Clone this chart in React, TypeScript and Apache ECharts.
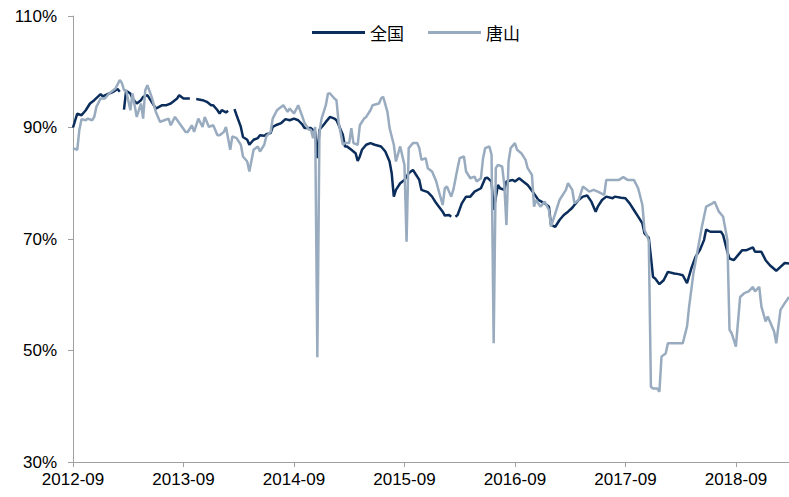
import React, { useEffect, useRef } from "react";
import * as echarts from "echarts";

// x = weeks since 2012-09
const tickLabels = ["2012-09", "2013-09", "2014-09", "2015-09", "2016-09", "2017-09", "2018-09"];
const weeksPerYear = 52;
const xMaxWeek = 337;
const yTicks = [30, 50, 70, 90, 110];

const seriesNames = ["全国", "唐山"];

const nationalWeeks = [0,2,4,6,8,10,13,14,17,19,21,22,23,24,25,27,28,30,32,33,35,37,39,42,44,46,49,50,52,55,57,58,61,63,65,66,68,69,70,72,73,74,75,76,77,79,80,82,83,85,87,88,90,91,93,94,96,98,100,102,104,106,108,109,112,114,115,116,118,119,121,123,124,125,127,128,129,131,133,134,135,136,138,140,142,145,147,149,150,151,152,154,156,158,160,161,163,164,167,169,171,174,175,177,178,179,180,181,183,185,187,189,192,194,195,197,198,200,201,203,204,207,208,210,211,214,215,218,219,222,224,225,227,229,231,233,235,236,238,240,242,244,246,247,249,251,254,255,258,260,262,264,266,268,269,271,272,273,274,276,278,280,283,285,287,289,291,293,295,297,298,300,302,305,306,308,309,311,313,315,317,320,321,324,326,328,331,333,335,337];
const nationalValues = [90.0,92.5,92.2,93.1,94.3,94.9,96.0,95.6,96.1,96.4,96.9,96.4,null,93.2,96.6,96.1,95.2,94.3,94.9,95.5,95.8,94.6,93.4,94.0,94.0,94.3,95.2,95.8,95.2,95.2,null,95.1,94.9,94.6,94.0,94.0,93.1,92.5,93.1,92.7,93.0,null,null,93.3,92.2,90.1,88.3,87.8,86.9,87.8,88.1,88.6,88.5,88.8,89.0,90.1,90.5,90.8,91.5,91.3,91.6,91.3,90.5,89.9,89.9,89.2,84.5,89.6,90.5,91.0,91.9,91.6,91.3,90.5,88.7,86.6,86.6,86.0,85.4,84.0,84.8,86.0,86.9,87.2,86.9,86.6,85.7,83.9,81.8,77.6,78.8,80.0,80.6,81.8,82.4,81.8,80.6,78.8,78.4,77.6,76.4,74.9,74.2,74.3,74.0,null,74.0,74.3,76.4,77.6,77.6,78.5,79.1,80.9,81.0,80.3,75.2,79.7,79.1,78.8,80.3,80.6,80.3,80.9,80.6,79.7,79.2,77.6,77.0,76.4,75.8,72.5,72.2,73.4,74.3,74.9,75.6,76.1,77.0,77.6,77.8,76.7,74.9,75.8,77.0,77.6,77.3,77.6,77.4,77.3,76.4,75.2,74.0,72.8,71.0,70.2,66.8,63.2,62.9,61.9,62.6,64.1,63.8,63.7,63.5,62.1,64.7,66.8,68.0,69.8,71.7,71.3,71.3,71.3,70.7,67.7,66.5,66.2,67.1,68.0,68.0,68.5,67.7,67.7,66.2,65.3,64.3,65.0,65.7,65.6];

const tangshanWeeks = [0,2,3,4,6,7,9,10,11,13,15,17,20,22,23,24,25,27,28,30,32,33,34,35,37,39,41,43,45,46,48,50,53,54,56,57,59,61,62,64,66,68,69,71,72,74,75,77,79,80,82,83,85,87,88,90,91,93,94,96,97,99,101,102,104,106,108,109,111,112,113,114,115,116,117,119,120,121,123,124,125,127,128,130,131,132,134,135,137,138,140,141,144,145,146,148,149,151,152,154,156,157,158,160,162,163,164,166,167,169,171,172,174,175,176,178,179,181,182,184,185,187,189,190,192,193,194,196,197,198,199,200,202,203,204,205,206,208,209,211,213,214,216,217,218,220,222,224,225,227,229,232,233,235,236,238,240,243,245,247,250,251,254,257,259,261,264,266,268,269,271,272,273,275,276,277,279,280,284,287,289,290,292,294,296,298,301,302,304,306,308,309,310,312,314,316,318,320,321,323,324,326,327,330,331,333,335,337];
const tangshanValues = [86.3,86.0,89.6,91.5,91.3,91.6,91.3,91.9,93.7,95.2,95.2,96.1,97.0,98.5,98.0,96.7,96.7,93.1,96.1,91.9,94.3,91.6,96.7,97.6,95.5,92.8,91.0,91.3,91.6,90.4,91.9,90.8,89.2,89.2,90.4,89.2,91.6,90.1,91.9,90.1,90.4,88.6,88.6,89.2,90.1,86.0,88.4,88.1,86.9,84.8,83.9,82.1,86.0,86.6,85.7,86.9,88.4,89.2,91.6,93.1,93.4,94.0,92.8,93.4,92.5,94.0,91.9,90.8,89.6,89.6,88.1,90.1,48.8,89.2,91.6,94.0,96.1,96.1,95.2,94.9,91.0,86.9,87.2,87.2,89.9,87.2,86.9,90.4,91.6,91.9,93.1,94.0,94.3,95.2,95.5,92.8,89.9,86.9,83.9,86.6,83.3,69.5,86.3,87.2,87.2,86.3,84.2,84.5,82.7,82.1,80.3,78.8,76.1,79.1,79.4,77.6,78.8,82.7,84.5,84.8,82.1,80.9,81.2,80.3,80.9,84.5,86.3,86.6,85.1,51.3,82.7,83.3,83.0,79.7,72.5,83.9,86.3,87.2,86.0,85.4,84.2,82.7,81.5,75.8,77.0,75.8,76.7,75.2,72.2,74.6,77.0,78.8,80.0,78.8,76.4,77.0,79.4,78.5,78.8,78.5,77.9,80.6,80.6,80.6,81.1,80.6,80.6,79.1,76.1,71.6,69.8,43.5,43.2,43.2,42.6,48.9,49.5,51.3,51.3,51.3,54.3,57.9,63.8,68.0,72.2,75.8,76.4,76.7,74.9,74.0,69.8,53.7,53.1,50.7,59.6,60.3,60.6,61.4,60.6,61.4,57.9,55.2,56.1,53.4,51.3,57.3,58.5,59.6];

const toPairs = (weeks: number[], values: (number | null)[]) =>
  weeks.map((w, i) => [w, values[i] === null ? "-" : values[i]]);

export default function App() {
  const ref = useRef<HTMLDivElement>(null);
  useEffect(() => {
    if (!ref.current) return;
    const chart = echarts.init(ref.current, undefined, { renderer: "svg" });
    const axisColor = "#a0a0a0";
    const tickWeeks = tickLabels.map((_, i) => i * weeksPerYear);
    chart.setOption({
      animation: false,
      backgroundColor: "#ffffff",
      legend: {
        data: seriesNames,
        left: 307,
        top: 19,
        icon: "rect",
        itemWidth: 53,
        itemHeight: 3,
        itemGap: 24,
        textStyle: { fontSize: 17, color: "#000", fontFamily: "Noto Sans CJK SC" },
      },
      grid: { left: 73, right: 0, top: 16, bottom: 35, containLabel: false },
      xAxis: {
        type: "value",
        min: 0,
        max: xMaxWeek,
        splitLine: { show: false },
        axisLine: { show: true, lineStyle: { color: axisColor, width: 1 } },
        axisTick: { show: true, length: 5, customValues: tickWeeks, lineStyle: { color: axisColor } },
        axisLabel: {
          customValues: tickWeeks,
          formatter: (v: number) => tickLabels[Math.round(v / weeksPerYear)] ?? "",
          color: "#000",
          fontSize: 17,
          fontFamily: "Liberation Sans, Arial, sans-serif",
          margin: 9,
        },
      },
      yAxis: {
        type: "value",
        min: yTicks[0],
        max: yTicks[yTicks.length - 1],
        interval: 20,
        splitLine: { show: false },
        axisLine: { show: true, lineStyle: { color: axisColor, width: 1 } },
        axisTick: { show: true, length: 5, lineStyle: { color: axisColor } },
        axisLabel: {
          formatter: "{value}%",
          color: "#000",
          fontSize: 17,
          fontFamily: "Liberation Sans, Arial, sans-serif",
          margin: 16,
        },
      },
      series: [
        {
          name: seriesNames[0],
          type: "line",
          data: toPairs(nationalWeeks, nationalValues),
          showSymbol: false,
          connectNulls: false,
          lineStyle: { color: "#0b2d5b", width: 2.5 },
          itemStyle: { color: "#0b2d5b" },
        },
        {
          name: seriesNames[1],
          type: "line",
          data: toPairs(tangshanWeeks, tangshanValues),
          showSymbol: false,
          lineStyle: { color: "#99abbf", width: 2.5 },
          itemStyle: { color: "#99abbf" },
        },
      ],
    });
    return () => chart.dispose();
  }, []);
  return (
    <div
      ref={ref}
      style={{ position: "fixed", left: 0, top: 0, width: 789, height: 497, background: "#fff" }}
    />
  );
}
